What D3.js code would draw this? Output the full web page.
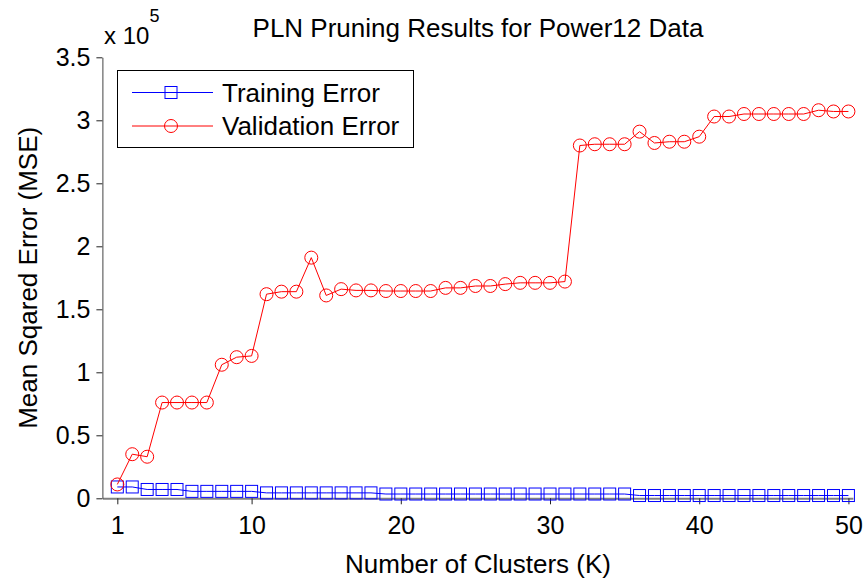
<!DOCTYPE html>
<meta charset="utf-8">
<style>
body {
    margin: 0px;
    background: white;
    font-family: "Liberation Sans", Arial, sans-serif;
}
text {
  fill: black;
}
</style>
<body>
<script src="https://d3js.org/d3.v7.min.js"></script>
<script>
var width = 864,
    height = 579

// Number of clusters K
var clusters = d3.range(1, 51)

var trainingError = [9000, 9000, 7000, 7000, 7000, 5500, 5500, 5500, 5500, 5500,
    4300, 4300, 4300, 4300, 4300, 4300, 4300, 4300, 3400, 3400,
    3400, 3400, 3400, 3400, 3400, 3400, 3400, 3400, 3400, 3400,
    3400, 3400, 3400, 3400, 3400, 2200, 2200, 2200, 2200, 2200,
    2200, 2200, 2200, 2200, 2200, 2200, 2200, 2200, 2200, 2200]

var validationError = [11000, 35000, 33000, 76000, 76000, 76000, 76000, 106000, 112000, 113000,
    162000, 164000, 164000, 191000, 161000, 166000, 165000, 165000, 164500, 164500,
    164500, 164500, 167000, 167000, 168500, 168500, 170000, 171000, 171000, 171000,
    172000, 280000, 281000, 281000, 281000, 291000, 282000, 283000, 283000, 287000,
    303000, 303000, 305000, 305000, 305000, 305000, 305000, 308000, 307000, 307000]

var xTicks = [1, 10, 20, 30, 40, 50]
var yTicks = [0, 50000, 100000, 150000, 200000, 250000, 300000, 350000]

var seriesNames = ["Training Error", "Validation Error"]

var svg = d3.select("body").append("svg")
    .attr("width", width)
    .attr("height", height)

var x = d3.scaleLinear()
    .domain([0, 50.3])
    .range([102.4, 852.9])

var y = d3.scaleLinear()
    .domain([0, 350000])
    .range([498.3, 57.3])

// Axes
var xAxis = svg.append("g")
    .attr("transform", "translate(0," + y(0) + ")")
    .call(d3.axisBottom(x).tickValues(xTicks).tickSize(6).tickPadding(12).tickSizeOuter(0))

xAxis.select(".domain").attr("stroke", "#808080").attr("stroke-width", 2)
xAxis.selectAll(".tick line").attr("stroke", "#222")
xAxis.selectAll(".tick text")
    .style("font-size", "25px")
    .style("font-family", "Liberation Sans, Arial, sans-serif")

var yAxis = svg.append("g")
    .attr("transform", "translate(" + x(0) + ",0)")
    .call(d3.axisLeft(y).tickValues(yTicks).tickSize(6).tickPadding(6).tickSizeOuter(0)
        .tickFormat(function(d) { return String(d / 100000) }))

yAxis.select(".domain").attr("stroke", "#444")
yAxis.selectAll(".tick line").attr("stroke", "#222")
yAxis.selectAll(".tick text")
    .style("font-size", "25px")
    .style("font-family", "Liberation Sans, Arial, sans-serif")

// exponent label
var expo = svg.append("text")
    .attr("x", 104)
    .attr("y", 44)
    .style("font-size", "24px")
expo.append("tspan").text("x 10")
expo.append("tspan").attr("dy", -22).style("font-size", "18px").text("5")

// Title and axis labels
svg.append("text")
    .attr("x", 478)
    .attr("y", 37)
    .attr("text-anchor", "middle")
    .style("font-size", "26px")
    .text("PLN Pruning Results for Power12 Data")

svg.append("text")
    .attr("x", 478)
    .attr("y", 573)
    .attr("text-anchor", "middle")
    .style("font-size", "26px")
    .text("Number of Clusters (K)")

svg.append("text")
    .attr("transform", "translate(37," + ((y(0) + y(350000)) / 2) + ") rotate(-90)")
    .attr("text-anchor", "middle")
    .style("font-size", "26px")
    .text("Mean Sqared Error (MSE)")

// Lines
var line = d3.line()
    .x(function(d) { return x(d[0]) })
    .y(function(d) { return y(d[1]) })

var trainData = clusters.map(function(k, i) { return [k, trainingError[i]] })
var validData = clusters.map(function(k, i) { return [k, validationError[i]] })

svg.append("path")
    .datum(trainData)
    .attr("d", line)
    .attr("fill", "none")
    .attr("stroke", "#0000ff")
    .attr("stroke-width", 1)

svg.selectAll(".sq")
    .data(trainData)
    .enter()
    .append("rect")
    .attr("class", "sq")
    .attr("x", function(d) { return x(d[0]) - 6 })
    .attr("y", function(d) { return y(d[1]) - 6 })
    .attr("width", 12)
    .attr("height", 12)
    .attr("fill", "none")
    .attr("stroke", "#0000ff")

svg.append("path")
    .datum(validData)
    .attr("d", line)
    .attr("fill", "none")
    .attr("stroke", "#ff0000")
    .attr("stroke-width", 1)

svg.selectAll(".circ")
    .data(validData)
    .enter()
    .append("circle")
    .attr("class", "circ")
    .attr("cx", function(d) { return x(d[0]) })
    .attr("cy", function(d) { return y(d[1]) })
    .attr("r", 6.5)
    .attr("fill", "none")
    .attr("stroke", "#ff0000")

// Legend
var legend = svg.append("g")

legend.append("rect")
    .attr("x", 117.5)
    .attr("y", 70.5)
    .attr("width", 296)
    .attr("height", 77)
    .attr("fill", "white")
    .attr("stroke", "black")

var colors = ["#0000ff", "#ff0000"]
seriesNames.forEach(function(name, i) {
    var ly = 92.5 + i * 33.5
    legend.append("line")
        .attr("x1", 132).attr("x2", 213)
        .attr("y1", ly).attr("y2", ly)
        .attr("stroke", colors[i])
    if (i == 0) {
        legend.append("rect")
            .attr("x", 171 - 6).attr("y", ly - 6)
            .attr("width", 12).attr("height", 12)
            .attr("fill", "none").attr("stroke", colors[i])
    } else {
        legend.append("circle")
            .attr("cx", 171).attr("cy", ly).attr("r", 6.5)
            .attr("fill", "none").attr("stroke", colors[i])
    }
    legend.append("text")
        .attr("x", 222)
        .attr("y", ly + 9)
        .style("font-size", "26px")
        .text(name)
})
</script>
